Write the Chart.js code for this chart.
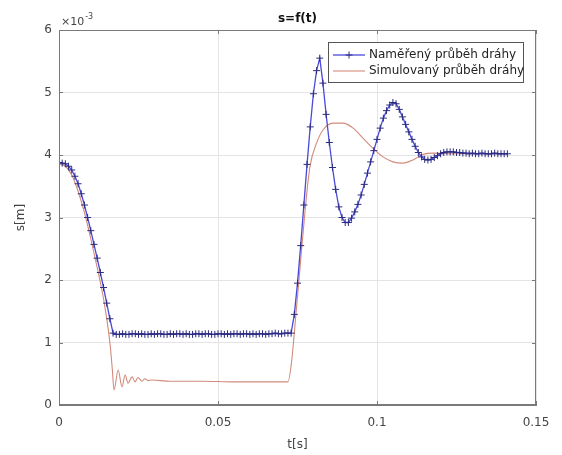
<!DOCTYPE html>
<html>
<head>
<meta charset="utf-8">
<script src="https://cdn.jsdelivr.net/npm/chart.js@4.4.1/dist/chart.umd.min.js"></script>
<style>
html,body{margin:0;padding:0;background:#fff;}
canvas{display:block;}
</style>
</head>
<body>
<canvas id="c" width="562" height="455"></canvas>
<script>
// ---- data ----
const chartTitle = 's=f(t)';
const xLabel = 't[s]';
const yLabel = 's[m]';
const yExponent = '-3';
const legendLabels = ['Naměřený průběh dráhy', 'Simulovaný průběh dráhy'];
const xTicks = [0, 0.05, 0.1, 0.15];
const yTicks = [0, 1, 2, 3, 4, 5, 6];

// measured series: time [s]
const measT = [
  0.000,0.001,0.002,0.003,0.004,0.005,0.006,0.007,0.008,0.009,
  0.010,0.011,0.012,0.013,0.014,0.015,0.016,0.017,0.018,0.019,
  0.020,0.021,0.022,0.023,0.024,0.025,0.026,0.027,0.028,0.029,
  0.030,0.031,0.032,0.033,0.034,0.035,0.036,0.037,0.038,0.039,
  0.040,0.041,0.042,0.043,0.044,0.045,0.046,0.047,0.048,0.049,
  0.050,0.051,0.052,0.053,0.054,0.055,0.056,0.057,0.058,0.059,
  0.060,0.061,0.062,0.063,0.064,0.065,0.066,0.067,0.068,0.069,
  0.070,0.071,0.072,0.073,0.074,0.075,0.076,0.077,0.078,0.079,
  0.080,0.081,0.082,0.083,0.084,0.085,0.086,0.087,0.088,0.089,
  0.090,0.091,0.092,0.093,0.094,0.095,0.096,0.097,0.098,0.099,
  0.100,0.101,0.102,0.103,0.104,0.105,0.106,0.107,0.108,0.109,
  0.110,0.111,0.112,0.113,0.114,0.115,0.116,0.117,0.118,0.119,
  0.120,0.121,0.122,0.123,0.124,0.125,0.126,0.127,0.128,0.129,
  0.130,0.131,0.132,0.133,0.134,0.135,0.136,0.137,0.138,0.139,
  0.140,0.141
];
// measured series: s [x10^-3 m]
const measS = [
  3.88,3.87,3.86,3.82,3.76,3.66,3.54,3.38,3.20,3.00,
  2.79,2.57,2.35,2.12,1.88,1.63,1.38,1.15,1.13,1.13,
  1.14,1.13,1.13,1.14,1.14,1.13,1.14,1.13,1.13,1.14,
  1.13,1.14,1.14,1.13,1.13,1.14,1.13,1.14,1.14,1.13,
  1.14,1.13,1.13,1.14,1.14,1.13,1.14,1.14,1.13,1.13,
  1.14,1.14,1.13,1.14,1.13,1.14,1.14,1.13,1.14,1.14,
  1.13,1.14,1.13,1.14,1.14,1.13,1.14,1.14,1.15,1.14,
  1.14,1.15,1.15,1.15,1.45,1.95,2.55,3.20,3.85,4.45,
  4.98,5.35,5.55,5.15,4.65,4.20,3.80,3.45,3.17,3.00,
  2.92,2.92,2.99,3.09,3.21,3.36,3.53,3.71,3.89,4.07,
  4.25,4.43,4.59,4.71,4.80,4.84,4.82,4.73,4.61,4.49,
  4.37,4.25,4.14,4.04,3.97,3.93,3.92,3.93,3.96,3.99,
  4.02,4.04,4.05,4.05,4.05,4.04,4.04,4.03,4.03,4.02,
  4.03,4.02,4.02,4.03,4.02,4.02,4.02,4.03,4.02,4.02,
  4.02,4.02
];

// simulated series
const simT = [
  0.000,0.002,0.004,0.006,0.008,0.010,0.012,0.014,0.016,0.0168,
  0.0173,0.0186,0.0198,0.0208,0.0217,0.0230,0.0239,0.0248,0.0261,0.0270,
  0.0280,0.0292,0.0350,0.0450,0.0550,0.0650,0.0720,0.0732,0.0745,0.0758,
  0.0774,0.0789,0.0810,0.0830,0.0862,0.0893,0.0925,0.0956,0.0987,0.1019,
  0.1050,0.1082,0.1113,0.1145,0.1176,0.1250,0.1350,0.1410
];
const simS = [
  3.86,3.82,3.68,3.42,3.08,2.66,2.20,1.70,1.00,0.55,
  0.24,0.56,0.29,0.48,0.35,0.45,0.37,0.44,0.38,0.42,
  0.39,0.40,0.38,0.38,0.37,0.37,0.37,0.72,1.45,2.20,
  3.12,3.81,4.19,4.40,4.51,4.51,4.43,4.27,4.11,3.97,
  3.89,3.87,3.92,4.01,4.03,4.02,4.02,4.02
];

// ---- styles ----
const BLUE_LINE = '#4a4ad8';
const BLUE_MARK = '#2c2c80';
const SIM_COLOR = '#d38a7c';
const AXIS_COLOR = '#7a7a7a';
const GRID_COLOR = '#e4e4e4';
const TEXT_COLOR = '#444444';
const FONT = '"DejaVu Sans", "Liberation Sans", Arial, sans-serif';

const decor = {
  id: 'decor',
  afterDraw(chart) {
    const {ctx, chartArea: a, scales} = chart;
    ctx.save();
    // box
    ctx.strokeStyle = AXIS_COLOR;
    ctx.lineWidth = 1;
    ctx.strokeRect(Math.round(a.left) + 0.5, Math.round(a.top) + 0.5,
                   Math.round(a.right - a.left) - 1, Math.round(a.bottom - a.top) - 1);
    // inward ticks
    ctx.beginPath();
    const tl = 4;
    scales.x.ticks.forEach(t => {
      const px = Math.round(scales.x.getPixelForValue(t.value)) + 0.5;
      ctx.moveTo(px, a.bottom); ctx.lineTo(px, a.bottom - tl);
      ctx.moveTo(px, a.top); ctx.lineTo(px, a.top + tl);
    });
    scales.y.ticks.forEach(t => {
      const py = Math.round(scales.y.getPixelForValue(t.value)) + 0.5;
      ctx.moveTo(a.left, py); ctx.lineTo(a.left + tl, py);
      ctx.moveTo(a.right, py); ctx.lineTo(a.right - tl, py);
    });
    ctx.stroke();

    // title
    ctx.fillStyle = '#111';
    ctx.font = 'bold 12px ' + FONT;
    ctx.textAlign = 'center';
    ctx.textBaseline = 'middle';
    ctx.fillText(chartTitle, (a.left + a.right) / 2, 19);

    // exponent
    ctx.fillStyle = TEXT_COLOR;
    ctx.textAlign = 'left';
    ctx.textBaseline = 'alphabetic';
    ctx.font = '11px ' + FONT;
    const base = '\u00d710';
    ctx.fillText(base, a.left + 2, 25);
    const w = ctx.measureText(base).width;
    ctx.font = '8px ' + FONT;
    ctx.fillText(yExponent, a.left + 2 + w + 1, 19);

    // legend
    const lx = 328, ly = 42, lw = 195, lh = 40;
    ctx.fillStyle = '#fff';
    ctx.fillRect(lx, ly, lw, lh);
    ctx.strokeStyle = '#555';
    ctx.lineWidth = 1;
    ctx.strokeRect(lx + 0.5, ly + 0.5, lw, lh);
    const rows = [ly + 13, ly + 29];
    chart.data.datasets.forEach((ds, i) => {
      const y = rows[i];
      ctx.beginPath();
      ctx.strokeStyle = ds.borderColor;
      ctx.lineWidth = ds.borderWidth;
      ctx.moveTo(lx + 5, y); ctx.lineTo(lx + 37, y);
      ctx.stroke();
      if (i === 0) {
        ctx.beginPath();
        ctx.strokeStyle = BLUE_MARK;
        ctx.lineWidth = 1;
        ctx.moveTo(lx + 21, y - 3.5); ctx.lineTo(lx + 21, y + 3.5);
        ctx.moveTo(lx + 17.5, y); ctx.lineTo(lx + 24.5, y);
        ctx.stroke();
      }
      ctx.fillStyle = '#222';
      ctx.font = '12px ' + FONT;
      ctx.textAlign = 'left';
      ctx.textBaseline = 'middle';
      ctx.fillText(ds.label, lx + 41, y);
    });
    ctx.restore();
  }
};

new Chart(document.getElementById('c'), {
  type: 'line',
  data: {
    datasets: [
      {
        label: legendLabels[0],
        data: measT.map((t, i) => ({x: t, y: measS[i]})),
        borderColor: BLUE_LINE,
        borderWidth: 1.3,
        pointStyle: 'cross',
        pointRadius: 3.5,
        pointBorderColor: BLUE_MARK,
        pointBorderWidth: 1,
        pointBackgroundColor: 'rgba(0,0,0,0)',
        tension: 0,
        fill: false
      },
      {
        label: legendLabels[1],
        data: simT.map((t, i) => ({x: t, y: simS[i]})),
        borderColor: SIM_COLOR,
        borderWidth: 1.1,
        pointRadius: 0,
        cubicInterpolationMode: 'monotone',
        fill: false
      }
    ]
  },
  options: {
    responsive: false,
    animation: false,
    devicePixelRatio: 1,
    layout: {padding: {left: 0, right: 26, top: 30, bottom: 0}},
    plugins: {legend: {display: false}, title: {display: false}, tooltip: {enabled: false}},
    scales: {
      x: {
        type: 'linear',
        min: xTicks[0],
        max: xTicks[xTicks.length - 1],
        afterBuildTicks: s => { s.ticks = xTicks.map(v => ({value: v})); },
        afterFit: s => { s.height = 50; },
        ticks: {
          padding: 11,
          color: TEXT_COLOR,
          font: {family: FONT, size: 12},
          maxRotation: 0,
          callback: v => String(+v.toFixed(2))
        },
        grid: {color: GRID_COLOR, drawTicks: false, tickLength: 0},
        border: {color: AXIS_COLOR, width: 1},
        title: {display: true, text: xLabel, color: TEXT_COLOR,
                font: {family: FONT, size: 12}, padding: {top: 0, bottom: 3}}
      },
      y: {
        type: 'linear',
        min: yTicks[0],
        max: yTicks[yTicks.length - 1],
        afterBuildTicks: s => { s.ticks = yTicks.map(v => ({value: v})); },
        afterFit: s => { s.width = 59; },
        ticks: {
          padding: 7,
          color: TEXT_COLOR,
          font: {family: FONT, size: 12},
          callback: v => String(v)
        },
        grid: {color: GRID_COLOR, drawTicks: false, tickLength: 0},
        border: {color: AXIS_COLOR, width: 1},
        title: {display: true, text: yLabel, color: TEXT_COLOR,
                font: {family: FONT, size: 12}, padding: {top: 14, bottom: 0}}
      }
    }
  },
  plugins: [decor]
});
</script>
</body>
</html>
